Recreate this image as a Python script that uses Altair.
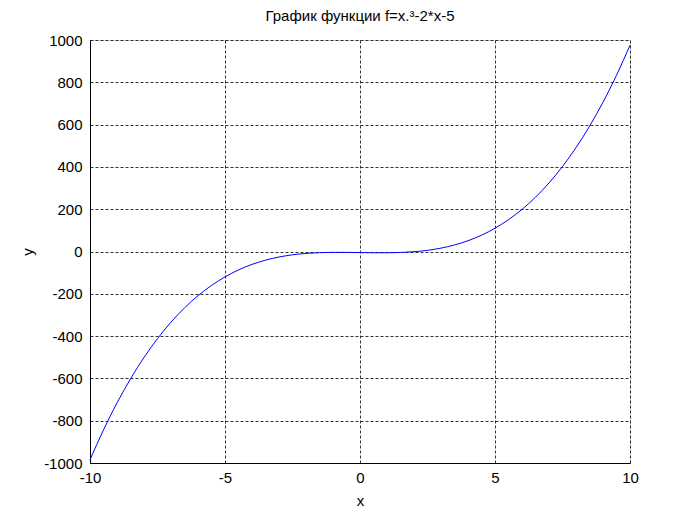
import altair as alt
import pandas as pd

x_vals = [-10, -9.5, -9, -8.5, -8, -7.5, -7, -6.5, -6, -5.5, -5, -4.5, -4, -3.5, -3, -2.5, -2, -1.5, -1, -0.5,
          0, 0.5, 1, 1.5, 2, 2.5, 3, 3.5, 4, 4.5, 5, 5.5, 6, 6.5, 7, 7.5, 8, 8.5, 9, 9.5, 10]
y_vals = [-985, -843.4, -716, -602.1, -501, -411.9, -334, -266.6, -209, -160.4, -120, -87.1, -61, -40.9, -26,
          -15.6, -9, -5.4, -4, -4.1, -5, -5.9, -6, -4.6, -1, 5.6, 16, 30.9, 51, 77.1, 110, 150.4, 199, 256.6,
          324, 401.9, 491, 592.1, 706, 833.4, 975]
x_ticks = [-10, -5, 0, 5, 10]
y_ticks = [-1000, -800, -600, -400, -200, 0, 200, 400, 600, 800, 1000]

df = pd.DataFrame({"x": x_vals, "y": y_vals})

FONT = "Liberation Sans"

xscale = alt.Scale(domain=[-10, 10], nice=False, zero=False)
yscale = alt.Scale(domain=[-1000, 1000], nice=False, zero=False)

common = dict(ticks=False, grid=True, gridColor="#000000", gridDash=[3, 2], gridWidth=0.8,
              domainColor="#000000", labelFontSize=15, titleFontSize=15, titleFontWeight="normal",
              labelFont=FONT, titleFont=FONT, labelColor="#000", titleColor="#000",
              labelFlush=False, labelExpr="'' + datum.value")

chart = alt.Chart(df).mark_line(color="#0000FF", strokeWidth=1, interpolate="monotone").encode(
    x=alt.X("x:Q", scale=xscale, title="x",
            axis=alt.Axis(values=x_ticks, labelPadding=7, titlePadding=8, **common)),
    y=alt.Y("y:Q", scale=yscale, title="y",
            axis=alt.Axis(values=y_ticks, labelPadding=8, titlePadding=8, **common)),
).properties(
    width=540, height=423,
    title=alt.Title("График функции f=x.³-2*x-5", font=FONT, fontSize=15, fontWeight="normal",
                    color="#000", anchor="middle", offset=9),
    autosize=alt.AutoSizeParams(type="none"),
    padding={"left": 82, "top": 32, "right": 59, "bottom": 50},
).configure_view(stroke="#000000", strokeWidth=1).configure(background="white")

chart.save("out.html", embed_options={"renderer": "svg", "actions": False})
